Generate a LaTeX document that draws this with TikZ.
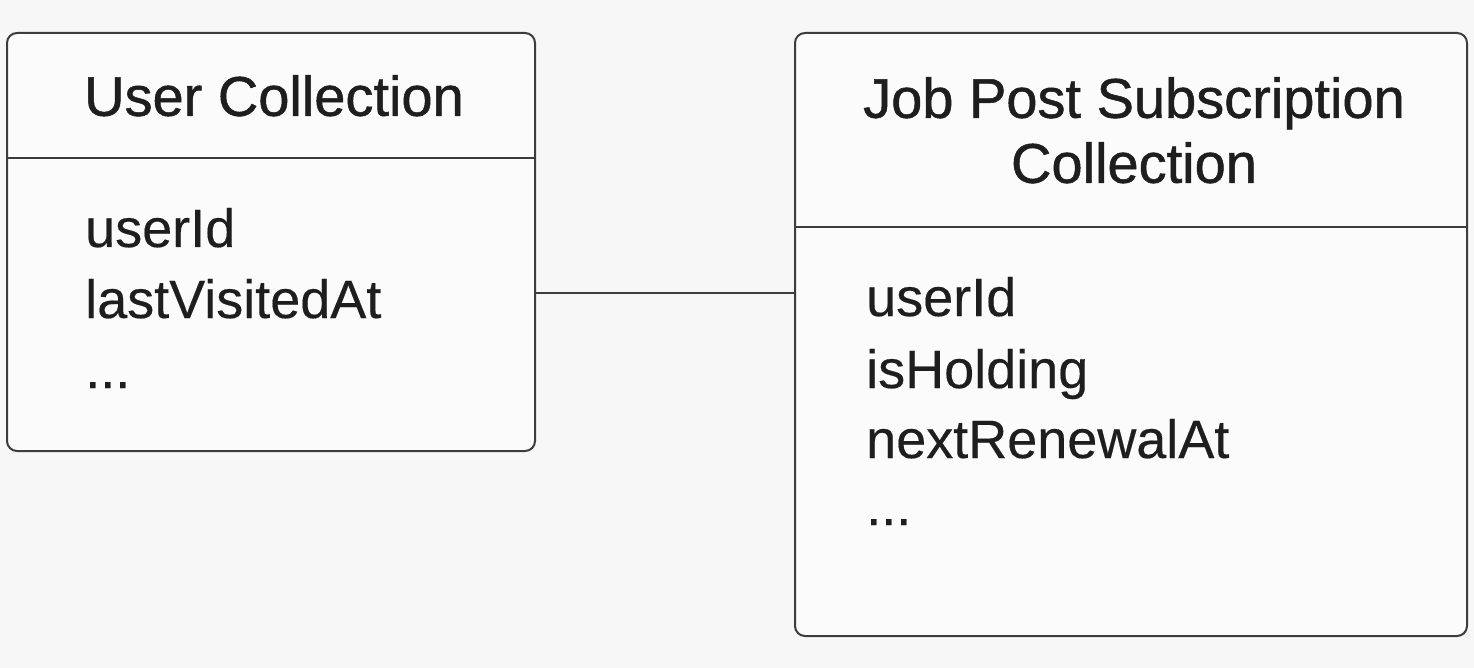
\documentclass[tikz,border=0pt]{standalone}
\usepackage{fontspec}
\setmainfont{Liberation Sans}
\newfontfamily\headfont[FakeBold=0.9]{Liberation Sans}
\newfontfamily\fieldfont[FakeBold=0.3]{Liberation Sans}
\usetikzlibrary{positioning}
\definecolor{bg}{HTML}{F7F7F7}
\definecolor{ink}{HTML}{1E1E1E}
\definecolor{rule}{HTML}{3C3C3C}

\begin{document}
\begin{tikzpicture}[
      x=1pt, y=-1pt,
      box/.style={draw=rule,line width=2pt,rounded corners=10pt,fill=white!55!bg,inner sep=0pt},
      sep/.style={draw=rule,line width=2pt},
      head/.style={text=ink,align=center,anchor=south,inner sep=0pt,text depth=0pt,font=\headfont\fontsize{56}{65}\selectfont},
      field/.style={text=ink,anchor=base west,inner sep=0pt,font=\fieldfont\fontsize{54}{70}\selectfont},
      link/.style={draw=rule,line width=2pt}
    ]
    % Fix the canvas.
    \fill[bg] (0,0) rectangle (1474,668);
    \useasboundingbox (0,0) rectangle (1474,668);
    % Draw the collections.
    \node[box,minimum width=528pt,minimum height=418pt] (user) at (271,242) {};
    \node[box,minimum width=672pt,minimum height=603pt] (sub) at (1131,334.5) {};
    % Draw the header rules.
    \coordinate (userRule) at (0,158);
    \coordinate (subRule) at (0,227);
    \draw[sep] (user.west |- userRule) -- (user.east |- userRule);
    \draw[sep] (sub.west |- subRule) -- (sub.east |- subRule);
    % Draw the titles.
    \node[head] (userTitle) at (274,116) {User Collection};
    \node[head] (subTitle) at (1134,183) {Job Post Subscription\\Collection};
    % Draw the fields.
    \node[field] (userId) at (85,247) {userId};
    \node[field] (userVisit) at (85,318) {lastVisitedAt};
    \node[field] (userMore) at (85,388) {...};
    \node[field] (subId) at (866,316) {userId};
    \node[field] (subHold) at (866,388) {isHolding};
    \node[field] (subRenew) at (866,458) {nextRenewalAt};
    \node[field] (subMore) at (866,525) {...};
    % Draw the link.
    \coordinate (linkY) at (0,293);
    \draw[link] (user.east |- linkY) -- (sub.west |- linkY);
\end{tikzpicture}
\end{document}
